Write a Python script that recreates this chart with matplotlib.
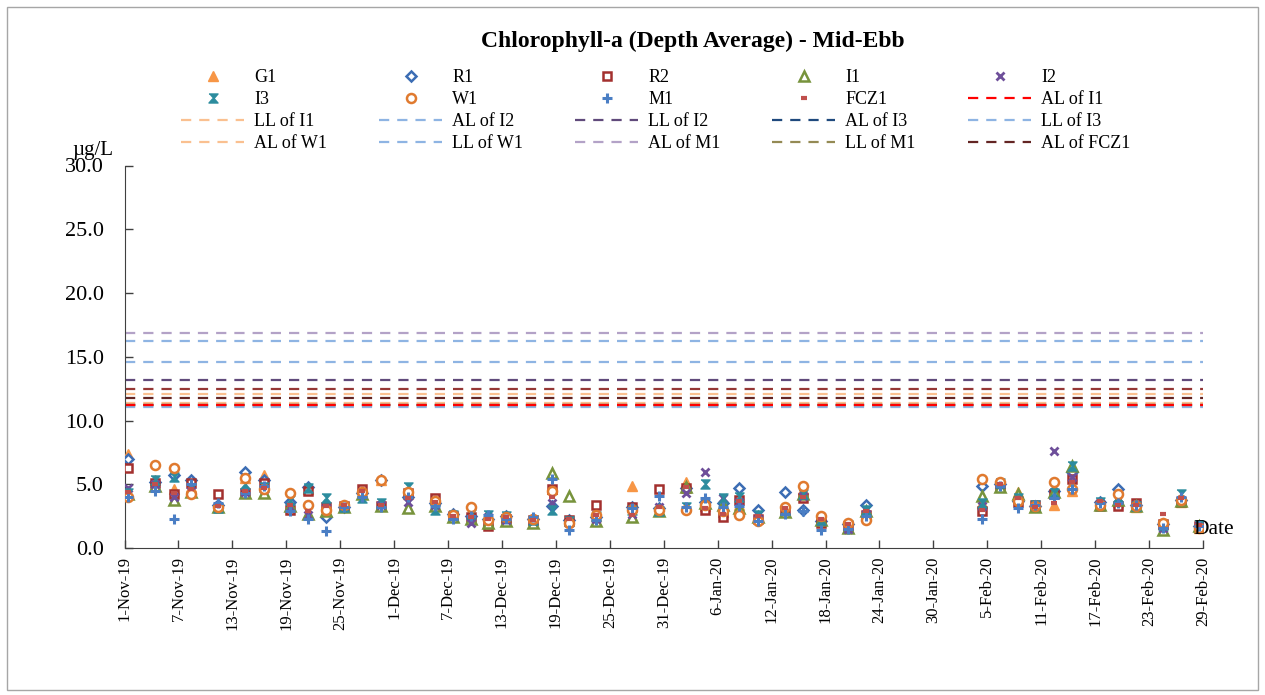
import matplotlib
matplotlib.use("Agg")
import matplotlib.pyplot as plt
import pandas as pd
from matplotlib.patches import Rectangle
from matplotlib.ticker import FuncFormatter, FormatStrFormatter

plt.rcParams['font.family'] = ['Liberation Serif', 'DejaVu Serif']

# Probenahme-Zeitpunkte (Mid-Ebb)
dates = pd.to_datetime([
    "2019-11-01 10:00", "2019-11-04 10:00", "2019-11-06 11:00", "2019-11-08 10:00",
    "2019-11-11 10:00", "2019-11-14 10:00", "2019-11-16 12:00", "2019-11-19 11:00",
    "2019-11-21 10:00", "2019-11-23 11:00", "2019-11-25 11:00", "2019-11-27 10:00",
    "2019-11-29 13:00", "2019-12-02 12:00", "2019-12-05 12:00", "2019-12-07 13:00",
    "2019-12-09 14:00", "2019-12-11 12:00", "2019-12-13 12:00", "2019-12-16 12:00",
    "2019-12-18 13:00", "2019-12-20 12:00", "2019-12-23 12:00", "2019-12-27 12:00",
    "2019-12-30 11:00", "2020-01-02 12:00", "2020-01-04 13:00", "2020-01-06 13:00",
    "2020-01-08 10:00", "2020-01-10 11:00", "2020-01-13 12:00", "2020-01-15 12:00",
    "2020-01-17 13:00", "2020-01-20 13:00", "2020-01-22 12:00", "2020-02-04 11:00",
    "2020-02-06 10:00", "2020-02-08 10:00", "2020-02-10 08:00", "2020-02-12 10:00",
    "2020-02-14 10:00", "2020-02-17 12:00", "2020-02-19 12:00", "2020-02-21 12:00",
    "2020-02-24 12:00", "2020-02-26 12:00", "2020-02-28 14:00",
])

g1 = [7.4, 5.3, 4.6, 4.8, 3.2, 5.5, 5.7, 3.3, 4.6, 3.0, 3.3, 4.4, 5.3, 4.2, 3.8, 2.6,
      2.8, 2.1, 2.4, 2.2, 4.6, 2.1, 2.5, 4.9, 3.0, 5.2, 3.3, 2.8, 3.4, 2.6, 3.0, 4.6,
      2.2, 1.8, 2.8, 3.5, 5.1, 4.4, 3.4, 3.4, 4.5, 3.5, 3.6, 3.2, 1.9, 3.6, 1.6]
r1 = [7.0, 5.2, 5.7, 5.3, 3.4, 6.0, 5.3, 3.6, 4.8, 2.4, 3.2, 4.3, 5.3, 4.0, 3.5, 2.7,
      2.5, 2.3, 2.5, 2.3, 3.3, 2.2, 2.4, 3.2, 3.1, 4.7, 3.6, 3.5, 4.7, 3.0, 4.4, 3.0,
      2.1, 1.9, 3.4, 4.9, 5.0, 3.7, 3.3, 4.5, 6.0, 3.6, 4.6, 3.4, 1.9, 3.8, 1.7]
r2 = [6.3, 5.1, 4.2, 5.1, 4.2, 4.3, 5.1, 3.0, 4.5, 3.2, 3.3, 4.6, 3.3, 4.3, 3.9, 2.5,
      2.4, 1.7, 2.3, 2.2, 4.6, 2.2, 3.4, 3.2, 4.6, 4.7, 3.0, 2.4, 3.8, 2.3, 2.9, 3.9,
      2.0, 1.7, 2.6, 2.9, 4.9, 3.6, 3.4, 4.2, 5.4, 3.3, 3.3, 3.5, 1.9, 3.6, 1.7]
i1 = [4.2, 4.9, 3.8, 4.4, 3.2, 4.3, 4.3, 3.3, 2.7, 2.9, 3.2, 4.2, 3.3, 3.1, 3.3, 2.4,
      2.3, 2.0, 2.1, 2.0, 5.9, 4.1, 2.1, 2.4, 2.9, 4.8, 3.5, 3.4, 3.1, 2.4, 2.8, 4.2,
      2.2, 1.6, 2.9, 4.1, 4.8, 4.2, 3.2, 4.4, 6.4, 3.4, 3.8, 3.3, 1.4, 3.7, 1.7]
i2 = [4.7, 5.0, 4.0, 4.5, 3.3, 4.4, 4.6, 3.2, 2.6, 3.1, 3.2, 4.3, 3.4, 3.6, 3.4, 2.5,
      2.0, 2.4, 2.2, 2.1, 3.5, 2.0, 2.3, 2.7, 3.2, 4.3, 6.0, 3.9, 3.6, 2.3, 2.9, 4.1,
      2.1, 1.5, 2.7, 3.3, 5.0, 3.8, 3.3, 7.6, 5.6, 3.5, 3.9, 3.4, 1.6, 3.8, 1.7]
i3 = [4.3, 5.3, 5.6, 4.7, 3.1, 5.0, 4.8, 3.8, 4.7, 3.9, 3.2, 3.9, 3.5, 4.8, 3.0, 2.6,
      2.7, 2.6, 2.5, 2.2, 3.0, 2.1, 2.5, 3.0, 2.9, 3.2, 5.0, 3.9, 4.0, 2.6, 3.0, 4.2,
      2.2, 1.8, 3.0, 3.5, 5.1, 3.9, 3.4, 4.3, 6.4, 3.6, 4.0, 3.3, 1.8, 4.2, 1.8]
w1 = [4.0, 6.5, 6.3, 4.2, 3.2, 5.5, 4.6, 4.3, 3.4, 3.0, 3.4, 4.4, 5.3, 4.4, 3.7, 2.6,
      3.2, 2.2, 2.4, 2.3, 4.5, 2.0, 2.6, 3.0, 3.0, 3.0, 3.4, 2.9, 2.6, 2.1, 3.2, 4.9,
      2.5, 2.0, 2.2, 5.4, 5.2, 3.7, 3.3, 5.2, 4.6, 3.4, 4.2, 3.3, 2.0, 3.8, 1.6]
m1 = [4.0, 4.5, 2.3, 5.0, 3.5, 4.3, 4.9, 2.9, 2.3, 1.3, 3.2, 4.0, 3.2, 4.0, 3.3, 2.3,
      2.5, 2.6, 2.3, 2.4, 5.4, 1.4, 2.2, 3.1, 4.1, 3.2, 3.9, 3.2, 3.3, 2.1, 2.7, 2.9,
      1.4, 1.5, 2.5, 2.3, 4.9, 3.1, 3.4, 3.9, 4.6, 3.5, 3.5, 3.4, 1.6, 4.0, 1.7]
fcz1 = [4.4, 5.0, 4.3, 4.6, 3.3, 4.5, 4.7, 3.4, 2.9, 3.3, 3.4, 4.5, 3.4, 3.9, 3.6, 2.5,
        2.4, 2.3, 2.4, 2.2, 4.0, 2.3, 2.6, 2.6, 3.2, 4.8, 3.1, 2.7, 3.7, 2.5, 3.1, 4.0,
        2.3, 1.9, 2.9, 3.0, 5.0, 3.9, 3.2, 3.5, 5.2, 3.7, 3.4, 3.4, 2.7, 3.9, 1.8]

# Action Level / Limit Level (Wert, Farbe)
limitNames = ["AL of I1", "LL of I1", "AL of I2", "LL of I2", "AL of I3", "LL of I3",
              "AL of W1", "LL of W1", "AL of M1", "LL of M1", "AL of FCZ1", "LL of FCZ1"]
limitValues = [11.2, 11.35, 16.2, 13.2, 11.2, 11.05, 12.1, 14.6, 16.9, 11.2, 11.8, 12.5]
limitColors = ["#FF0000", "#FAC090", "#8EB4E3", "#604A7B", "#1F497D", "#8EB4E3",
               "#FAC090", "#8EB4E3", "#B3A2C7", "#948A54", "#632523", "#953735"]

startDate = pd.Timestamp("2019-11-01")
endDate = pd.Timestamp("2020-02-29")

hourglass = [(-1, 1), (1, 1), (0.12, 0), (1, -1), (-1, -1), (-0.12, 0)]

stations = [
    ("G1", g1, dict(marker="^", color="#F79646", mfc="#F79646", ms=6.5, mew=1.0)),
    ("R1", r1, dict(marker="D", color="#3C6DB4", mfc="white", ms=5, mew=1.8)),
    ("R2", r2, dict(marker="s", color="#A3302E", mfc="white", ms=6, mew=1.8)),
    ("I1", i1, dict(marker="^", color="#77933C", mfc="white", ms=6.5, mew=1.8)),
    ("I2", i2, dict(marker="x", color="#6E4F9A", ms=6, mew=2.0)),
    ("I3", i3, dict(marker=hourglass, color="#2C8C9E", mfc="#2C8C9E", ms=6.5, mew=1.0)),
    ("W1", w1, dict(marker="o", color="#E07A2F", mfc="white", ms=6.5, mew=1.8)),
    ("M1", m1, dict(marker="+", color="#4A7EC4", ms=6.5, mew=2.2)),
    ("FCZ1", fcz1, dict(marker="_", color="#C0504D", ms=5, mew=3.0)),
]

fig = plt.figure(figsize=(12.65, 6.95), dpi=100)
ax = fig.add_axes([124.5 / 1265, 147 / 695, 1078.5 / 1265, 382.5 / 695])

handles = []
for name, values, style in stations:
    h, = ax.plot(dates, values, linestyle="none", label=name, zorder=3, **style)
    handles.append(h)

for name, value, color in zip(limitNames, limitValues, limitColors):
    z = 2.5 if name == "AL of I1" else 2
    h, = ax.plot([startDate, endDate], [value, value], color=color, lw=1.6,
                 linestyle=(0, (4.6, 3.6)), label=name, zorder=z)
    # LL of FCZ1 steht in der Originallegende nicht mehr drin
    if name != "LL of FCZ1":
        handles.append(h)

ax.set_xlim(startDate, endDate)
ax.set_ylim(0, 30)
ax.set_yticks(range(0, 31, 5))
ax.yaxis.set_major_formatter(FormatStrFormatter("%.1f"))
ax.set_xticks(pd.date_range(startDate, endDate, freq="6D"))
ax.xaxis.set_major_formatter(FuncFormatter(
    lambda v, pos: "{}-{}".format(matplotlib.dates.num2date(v).day,
                                  matplotlib.dates.num2date(v).strftime("%b-%y"))))
ax.tick_params(axis="x", direction="in", length=6, width=1, color="#404040",
               labelsize=12, rotation=90, pad=6)
ax.tick_params(axis="y", direction="in", length=6, width=1, color="#404040",
               labelsize=16, pad=15)
for side in ["top", "right"]:
    ax.spines[side].set_visible(False)
for side in ["left", "bottom"]:
    ax.spines[side].set_color("#404040")

# Legende zeilenweise wie in Excel: 5 Spalten, jede Spalte eine eigene Legende
colStarts = [181, 379, 575, 772, 968]
for c in range(5):
    colHandles = [handles[r * 5 + c] for r in range(4)]
    fig.legend(handles=colHandles, labels=[h.get_label() for h in colHandles],
               loc="upper left", bbox_to_anchor=(colStarts[c] / 1265, 1 - 69 / 695),
               frameon=False, fontsize=13, handlelength=3.5, handletextpad=0.55,
               borderpad=0, borderaxespad=0, labelspacing=0.28, numpoints=1)

fig.text(693 / 1265, 1 - 41 / 695, "Chlorophyll-a (Depth Average) - Mid-Ebb",
         ha="center", va="center", fontsize=17, fontweight="bold")
fig.text(72 / 1265, 1 - 150 / 695, "µg/L", ha="left", va="center", fontsize=15)
fig.text(1193 / 1265, 1 - 529 / 695, "Date", ha="left", va="center", fontsize=15.5)

fig.add_artist(Rectangle((7 / 1265, 5 / 695), 1251 / 1265, 683 / 695,
                         transform=fig.transFigure, fill=False,
                         edgecolor="#A6A6A6", lw=1))

fig.savefig("out.png", dpi=100)
